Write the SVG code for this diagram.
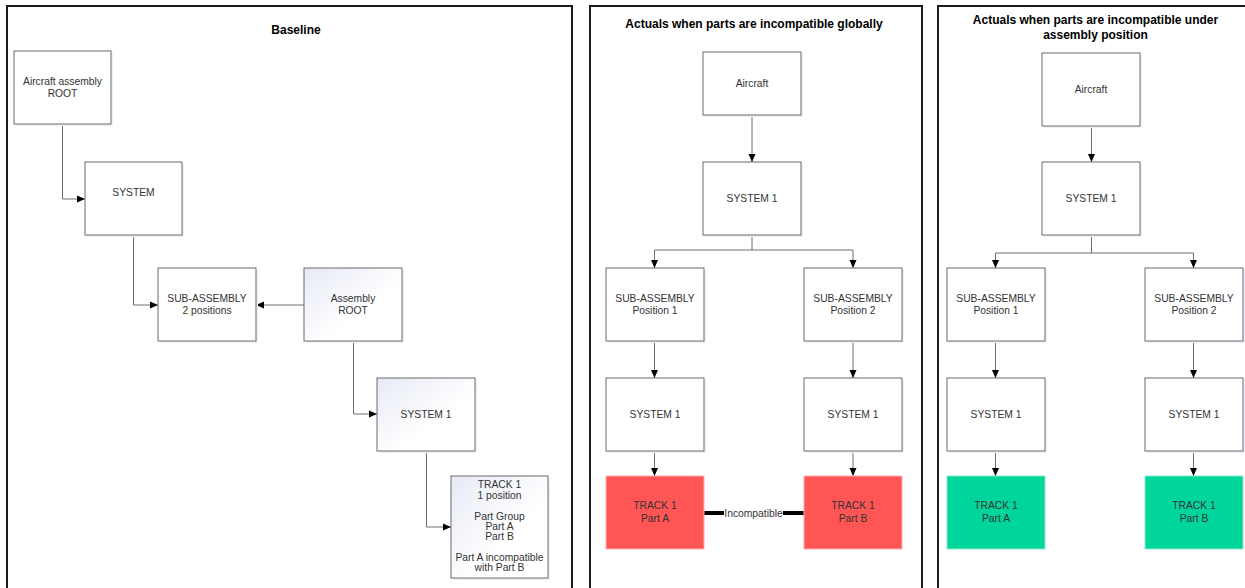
<svg xmlns="http://www.w3.org/2000/svg" width="1245" height="588" viewBox="0 0 1245 588">
  <style>
    .frame { fill: none; stroke: #1a1a1a; stroke-width: 2; }
    .title { font-family: "Liberation Sans", Arial, sans-serif; font-size: 12px; font-weight: bold; fill: #000; text-anchor: middle; }
    .box { fill: #fff; stroke: #6b6b6b; stroke-width: 1; }
    .grad { fill: url(#soft); stroke: #6b6b6b; stroke-width: 1; }
    .red { fill: #ff5555; stroke: #ffb0b0; stroke-width: 1; }
    .green { fill: #00d59b; stroke: #8ee8cc; stroke-width: 1; }
    .shadow { fill: #edf0f7; }
    .lbl { font-family: "Liberation Sans", Arial, sans-serif; font-size: 10.3px; fill: #333; text-anchor: middle; }
    .link { fill: none; stroke: #6e6e6e; stroke-width: 1; marker-end: url(#arrow); }
    .line { fill: none; stroke: #6e6e6e; stroke-width: 1; }
    .thick { fill: none; stroke: #000; stroke-width: 4; }
  </style>
  <defs>
    <linearGradient id="soft" x1="0" y1="0" x2="1" y2="1">
      <stop offset="0" stop-color="#e6eaf5"/>
      <stop offset="0.6" stop-color="#ffffff"/>
    </linearGradient>
    <marker id="arrow" viewBox="0 0 8 8" refX="8" refY="4" markerWidth="8" markerHeight="8" markerUnits="userSpaceOnUse" orient="auto">
      <path d="M0,0.5 L8,4 L0,7.5 Z" fill="#000"/>
    </marker>
  </defs>

  <rect width="1245" height="588" fill="#fff"/>

  <!-- panel frames and titles -->
  <g id="panels">
    <rect class="frame" x="7" y="6" width="565" height="600"/>
    <rect class="frame" x="590" y="6" width="332" height="600"/>
    <rect class="frame" x="938" y="6" width="320" height="600"/>
    <text class="title" x="296" y="34">Baseline</text>
    <text class="title" x="754" y="28">Actuals when parts are incompatible globally</text>
    <text class="title" x="1095.5" y="24">Actuals when parts are incompatible under</text>
    <text class="title" x="1095.5" y="38.5">assembly position</text>
  </g>

  <!-- connectors -->
  <g id="connectors">
    <!-- baseline -->
    <path class="link" d="M62.5,124 V199 H85"/>
    <path class="link" d="M133.5,235 V305 H158"/>
    <path class="link" d="M304,305 H256"/>
    <path class="link" d="M353.5,341 V414 H377"/>
    <path class="link" d="M426.5,451 V527 H451"/>
    <!-- globally -->
    <path class="link" d="M752,115 V162"/>
    <path class="line" d="M752,235 V250 M654.5,250 H853"/>
    <path class="link" d="M654.5,250 V268"/>
    <path class="link" d="M853,250 V268"/>
    <path class="link" d="M654.5,341 V378"/>
    <path class="link" d="M853,341 V378"/>
    <path class="link" d="M654.5,451 V476"/>
    <path class="link" d="M853,451 V476"/>
    <path class="thick" d="M704,513 H804"/>
    <rect x="724" y="506" width="59" height="14" fill="#fff"/>
    <text class="lbl" x="753.5" y="516.5">Incompatible</text>
    <!-- under assembly position -->
    <path class="link" d="M1091.5,126 V162"/>
    <path class="line" d="M1091.5,235 V253 M995.5,253 H1193.5"/>
    <path class="link" d="M995.5,253 V268"/>
    <path class="link" d="M1193.5,253 V268"/>
    <path class="link" d="M995.5,341 V378"/>
    <path class="link" d="M1193.5,341 V378"/>
    <path class="link" d="M995.5,451 V476"/>
    <path class="link" d="M1193.5,451 V476"/>
  </g>

  <!-- baseline nodes -->
  <g id="aircraft-root">
    <rect class="shadow" x="16" y="53" width="97" height="73"/>
    <rect class="box" x="14" y="51" width="97" height="73"/>
    <text class="lbl" x="62.5" y="85">Aircraft assembly</text>
    <text class="lbl" x="62.5" y="97">ROOT</text>
  </g>
  <g id="system">
    <rect class="shadow" x="87" y="164" width="97" height="73"/>
    <rect class="box" x="85" y="162" width="97" height="73"/>
    <text class="lbl" x="133.5" y="196">SYSTEM</text>
  </g>
  <g id="sub-assembly">
    <rect class="shadow" x="160" y="270" width="98" height="73"/>
    <rect class="box" x="158" y="268" width="98" height="73"/>
    <text class="lbl" x="207" y="302">SUB-ASSEMBLY</text>
    <text class="lbl" x="207" y="314">2 positions</text>
  </g>
  <g id="assembly-root">
    <rect class="shadow" x="306" y="270" width="98" height="73"/>
    <rect class="grad" x="304" y="268" width="98" height="73"/>
    <text class="lbl" x="353" y="302">Assembly</text>
    <text class="lbl" x="353" y="314">ROOT</text>
  </g>
  <g id="system-1">
    <rect class="shadow" x="379" y="380" width="98" height="73"/>
    <rect class="grad" x="377" y="378" width="98" height="73"/>
    <text class="lbl" x="426" y="417.5">SYSTEM 1</text>
  </g>
  <g id="track-1">
    <rect class="shadow" x="453" y="478" width="97" height="102"/>
    <rect class="grad" x="451" y="476" width="97" height="102"/>
    <text class="lbl" x="499.5" y="488">TRACK 1</text>
    <text class="lbl" x="499.5" y="498.5">1 position</text>
    <text class="lbl" x="499.5" y="519.5">Part Group</text>
    <text class="lbl" x="499.5" y="529.5">Part A</text>
    <text class="lbl" x="499.5" y="540">Part B</text>
    <text class="lbl" x="499.5" y="560.5">Part A incompatible</text>
    <text class="lbl" x="499.5" y="571">with Part B</text>
  </g>

  <!-- globally nodes -->
  <g id="g-aircraft">
    <rect class="shadow" x="705" y="54" width="98" height="63"/>
    <rect class="box" x="703" y="52" width="98" height="63"/>
    <text class="lbl" x="752" y="87">Aircraft</text>
  </g>
  <g id="g-system-1">
    <rect class="shadow" x="705" y="164" width="98" height="73"/>
    <rect class="box" x="703" y="162" width="98" height="73"/>
    <text class="lbl" x="752" y="202">SYSTEM 1</text>
  </g>
  <g id="g-sub-1">
    <rect class="shadow" x="608" y="270" width="98" height="73"/>
    <rect class="box" x="606" y="268" width="98" height="73"/>
    <text class="lbl" x="655" y="302">SUB-ASSEMBLY</text>
    <text class="lbl" x="655" y="314">Position 1</text>
  </g>
  <g id="g-sub-2">
    <rect class="shadow" x="806" y="270" width="98" height="73"/>
    <rect class="box" x="804" y="268" width="98" height="73"/>
    <text class="lbl" x="853" y="302">SUB-ASSEMBLY</text>
    <text class="lbl" x="853" y="314">Position 2</text>
  </g>
  <g id="g-sys-1">
    <rect class="shadow" x="608" y="380" width="98" height="73"/>
    <rect class="box" x="606" y="378" width="98" height="73"/>
    <text class="lbl" x="655" y="417.5">SYSTEM 1</text>
  </g>
  <g id="g-sys-2">
    <rect class="shadow" x="806" y="380" width="98" height="73"/>
    <rect class="box" x="804" y="378" width="98" height="73"/>
    <text class="lbl" x="853" y="417.5">SYSTEM 1</text>
  </g>
  <g id="g-track-a">
    <rect class="red" x="606" y="476" width="98" height="73"/>
    <text class="lbl" x="655" y="509">TRACK 1</text>
    <text class="lbl" x="655" y="521.5">Part A</text>
  </g>
  <g id="g-track-b">
    <rect class="red" x="804" y="476" width="98" height="73"/>
    <text class="lbl" x="853" y="509">TRACK 1</text>
    <text class="lbl" x="853" y="521.5">Part B</text>
  </g>

  <!-- position nodes -->
  <g id="p-aircraft">
    <rect class="shadow" x="1044" y="55" width="98" height="73"/>
    <rect class="box" x="1042" y="53" width="98" height="73"/>
    <text class="lbl" x="1091" y="93">Aircraft</text>
  </g>
  <g id="p-system-1">
    <rect class="shadow" x="1044" y="164" width="98" height="73"/>
    <rect class="box" x="1042" y="162" width="98" height="73"/>
    <text class="lbl" x="1091" y="202">SYSTEM 1</text>
  </g>
  <g id="p-sub-1">
    <rect class="shadow" x="949" y="270" width="98" height="73"/>
    <rect class="box" x="947" y="268" width="98" height="73"/>
    <text class="lbl" x="996" y="302">SUB-ASSEMBLY</text>
    <text class="lbl" x="996" y="314">Position 1</text>
  </g>
  <g id="p-sub-2">
    <rect class="shadow" x="1147" y="270" width="98" height="73"/>
    <rect class="box" x="1145" y="268" width="98" height="73"/>
    <text class="lbl" x="1194" y="302">SUB-ASSEMBLY</text>
    <text class="lbl" x="1194" y="314">Position 2</text>
  </g>
  <g id="p-sys-1">
    <rect class="shadow" x="949" y="380" width="98" height="73"/>
    <rect class="box" x="947" y="378" width="98" height="73"/>
    <text class="lbl" x="996" y="417.5">SYSTEM 1</text>
  </g>
  <g id="p-sys-2">
    <rect class="shadow" x="1147" y="380" width="98" height="73"/>
    <rect class="box" x="1145" y="378" width="98" height="73"/>
    <text class="lbl" x="1194" y="417.5">SYSTEM 1</text>
  </g>
  <g id="p-track-a">
    <rect class="green" x="947" y="476" width="98" height="73"/>
    <text class="lbl" x="996" y="509">TRACK 1</text>
    <text class="lbl" x="996" y="521.5">Part A</text>
  </g>
  <g id="p-track-b">
    <rect class="green" x="1145" y="476" width="98" height="73"/>
    <text class="lbl" x="1194" y="509">TRACK 1</text>
    <text class="lbl" x="1194" y="521.5">Part B</text>
  </g>
</svg>
